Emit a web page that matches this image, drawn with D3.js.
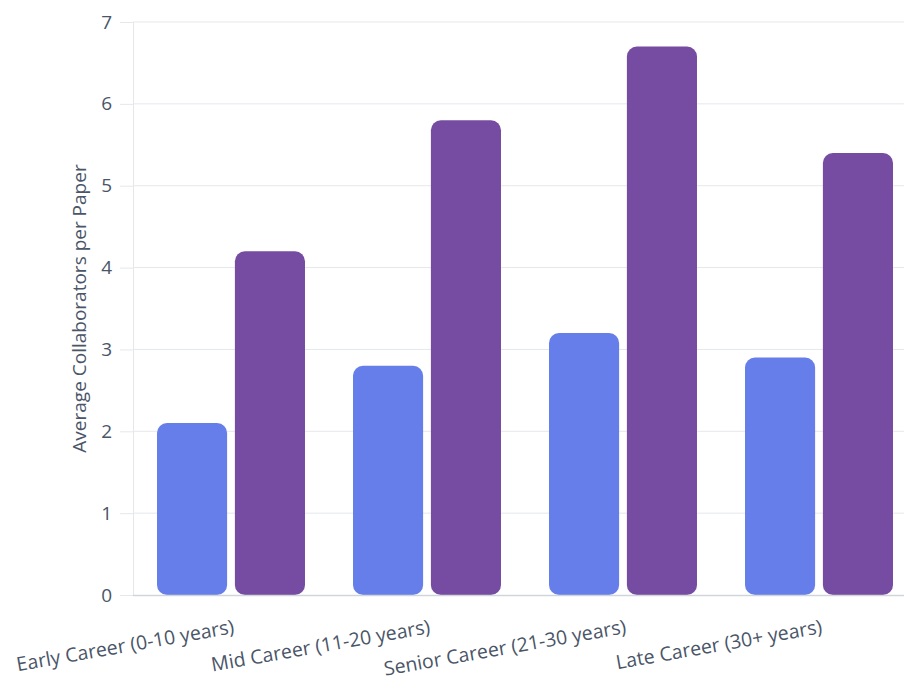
<!DOCTYPE html>
<html>
<head>
<meta charset="utf-8">
<script src="https://cdn.jsdelivr.net/npm/d3@7"></script>
<style>
  html, body { margin: 0; padding: 0; background: #fff; }
  svg { display: block; }
  svg text { font-family: "Open Sans", "Noto Sans", sans-serif; }
</style>
</head>
<body>
<svg id="chart" width="904" height="683"></svg>
<script>
// Career stages and average collaborators per paper for two groups
const categories = [
  "Early Career (0-10 years)",
  "Mid Career (11-20 years)",
  "Senior Career (21-30 years)",
  "Late Career (30+ years)"
];
const seriesNames = ["Group A", "Group B"];
const seriesA = [2.1, 2.8, 3.2, 2.9];
const seriesB = [4.2, 5.8, 6.7, 5.4];
const yTicks = [0, 1, 2, 3, 4, 5, 6, 7];
const colors = ["#667eea", "#764ba2"];

const rows = categories.map((c, i) => ({ category: c, values: [seriesA[i], seriesB[i]] }));

const svg = d3.select("#chart");
const margin = { left: 133, right: -13, top: 22, bottom: 88 };
const width = 904, height = 683;

const x0 = d3.scaleBand()
  .domain(categories)
  .range([margin.left, width - margin.right])
  .paddingInner(0.245)
  .paddingOuter(0.1225);

const x1 = d3.scaleBand()
  .domain(seriesNames)
  .range([0, x0.bandwidth()])
  .paddingInner(0.1);

const y = d3.scaleLinear()
  .domain([0, 7])
  .range([height - margin.bottom, margin.top]);

// y axis with outward ticks
const yAxis = svg.append("g")
  .attr("transform", `translate(${margin.left},0)`)
  .call(d3.axisLeft(y).tickValues(yTicks).tickSize(13).tickPadding(8).tickFormat(d3.format("d")));
yAxis.attr("font-family", null);
yAxis.select(".domain").attr("stroke", "#e5e7eb");
yAxis.selectAll(".tick line").attr("stroke", "#e5e7eb");
yAxis.selectAll(".tick text").attr("fill", "#4a5568").attr("font-size", 19);

// horizontal grid
svg.append("g")
  .selectAll("line")
  .data(yTicks.filter(d => d > 0))
  .join("line")
  .attr("x1", margin.left)
  .attr("x2", width)
  .attr("y1", d => y(d))
  .attr("y2", d => y(d))
  .attr("stroke", "#e5e7eb")
  .attr("stroke-width", 1);

// grouped bars with rounded corners
const groups = svg.append("g")
  .selectAll("g")
  .data(rows)
  .join("g")
  .attr("transform", d => `translate(${x0(d.category)},0)`);

groups.selectAll("rect")
  .data(d => d.values.map((v, i) => ({ key: seriesNames[i], value: v, i })))
  .join("rect")
  .attr("x", d => x1(d.key))
  .attr("y", d => y(d.value))
  .attr("width", x1.bandwidth())
  .attr("height", d => y(0) - y(d.value))
  .attr("rx", 10)
  .attr("ry", 10)
  .attr("fill", d => colors[d.i]);

// baseline
svg.append("line")
  .attr("x1", margin.left)
  .attr("x2", width)
  .attr("y1", y(0) + 0.5)
  .attr("y2", y(0) + 0.5)
  .attr("stroke", "#d1d5db")
  .attr("stroke-width", 1.5);

// x axis labels, tilted
const xAxis = svg.append("g")
  .attr("transform", `translate(0,${y(0)})`)
  .call(d3.axisBottom(x0).tickSize(0).tickPadding(0));
xAxis.attr("font-family", null);
xAxis.select(".domain").remove();
xAxis.selectAll(".tick text")
  .attr("fill", "#4a5568")
  .attr("font-size", 19.5)
  .attr("text-anchor", "end")
  .attr("dy", 0)
  .attr("transform", "translate(4,38) rotate(-10)");

// y axis title
svg.append("text")
  .attr("transform", `translate(86,${(y(0) + y(7)) / 2}) rotate(-90)`)
  .attr("text-anchor", "middle")
  .attr("fill", "#4a5568")
  .attr("font-size", 19)
  .text("Average Collaborators per Paper");
</script>
</body>
</html>
